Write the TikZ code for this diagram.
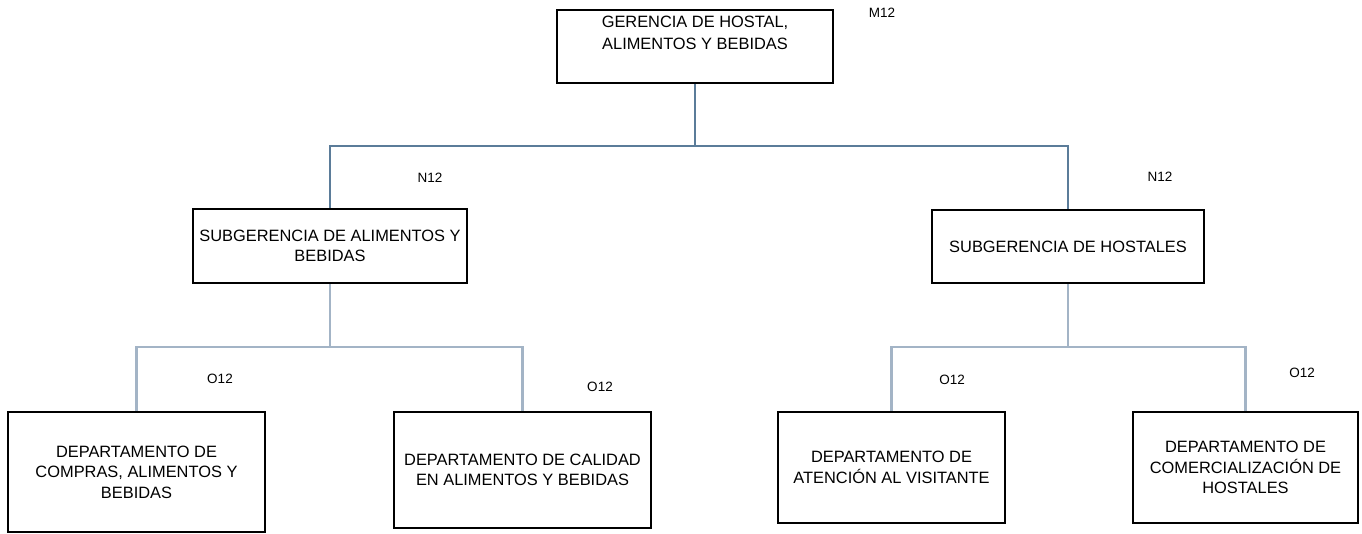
\documentclass[tikz,border=0pt]{standalone}
\usepackage{fontspec}
\setmainfont{Liberation Sans}
\definecolor{topline}{HTML}{5B7C99}
\definecolor{lowline}{HTML}{A3B4C6}
\begin{document}
\begin{tikzpicture}[x=1pt,y=-1pt,
  box/.style={draw=black,line width=2.4pt,rectangle,align=center,inner sep=0pt,
    font=\fontsize{16.4}{20.5}\selectfont},
  tag/.style={font=\fontsize{13.5}{15}\selectfont,inner sep=0pt},
  conA/.style={draw=topline,line width=2.6pt},
  conB/.style={draw=lowline,line width=2.6pt}]
\useasboundingbox (0,0) rectangle (1362,534);
\fill[white] (0,0) rectangle (1362,534);
% boxes
\node[box,minimum width=276pt,minimum height=73pt,font=\fontsize{16.4}{22}\selectfont] (top) at (695,46.5)
  {GERENCIA DE HOSTAL,\\ALIMENTOS Y BEBIDAS\\[5pt]\mbox{}};
\node[box,minimum width=274pt,minimum height=74pt] (subL) at (330,246)
  {SUBGERENCIA DE ALIMENTOS Y\\BEBIDAS};
\node[box,minimum width=272pt,minimum height=73pt] (subR) at (1068,246.5)
  {SUBGERENCIA DE HOSTALES};
\node[box,minimum width=257pt,minimum height=120pt] (d1) at (136.5,472)
  {DEPARTAMENTO DE\\COMPRAS, ALIMENTOS Y\\BEBIDAS};
\node[box,minimum width=257pt,minimum height=116pt] (d2) at (522.5,470)
  {DEPARTAMENTO DE CALIDAD\\EN ALIMENTOS Y BEBIDAS};
\node[box,minimum width=227pt,minimum height=111pt] (d3) at (891.5,467.5)
  {DEPARTAMENTO DE\\ATENCI\'ON AL VISITANTE};
\node[box,minimum width=225pt,minimum height=111pt] (d4) at (1245.5,467.5)
  {DEPARTAMENTO DE\\COMERCIALIZACI\'ON DE\\HOSTALES};
% junctions
\coordinate (j0) at (695,146);
\coordinate (j1) at (330,347);
\coordinate (j2) at (1068,347);
% connectors
\draw[conA] (top.south) -- (j0);
\draw[conA] (subL.north) |- (j0) -| (subR.north);
\draw[conB] (subL.south) -- (j1);
\draw[conB] (d1.north) |- (j1) -| (d2.north);
\draw[conB] (subR.south) -- (j2);
\draw[conB] (d3.north) |- (j2) -| (d4.north);
% tags
\node[tag] (m12) at (882,13) {M12};
\node[tag] (n12a) at (430,178) {N12};
\node[tag] (n12b) at (1160,177) {N12};
\node[tag] (o12a) at (220,379) {O12};
\node[tag] (o12b) at (600,387) {O12};
\node[tag] (o12c) at (952,380) {O12};
\node[tag] (o12d) at (1302,373) {O12};
\end{tikzpicture}
\end{document}
